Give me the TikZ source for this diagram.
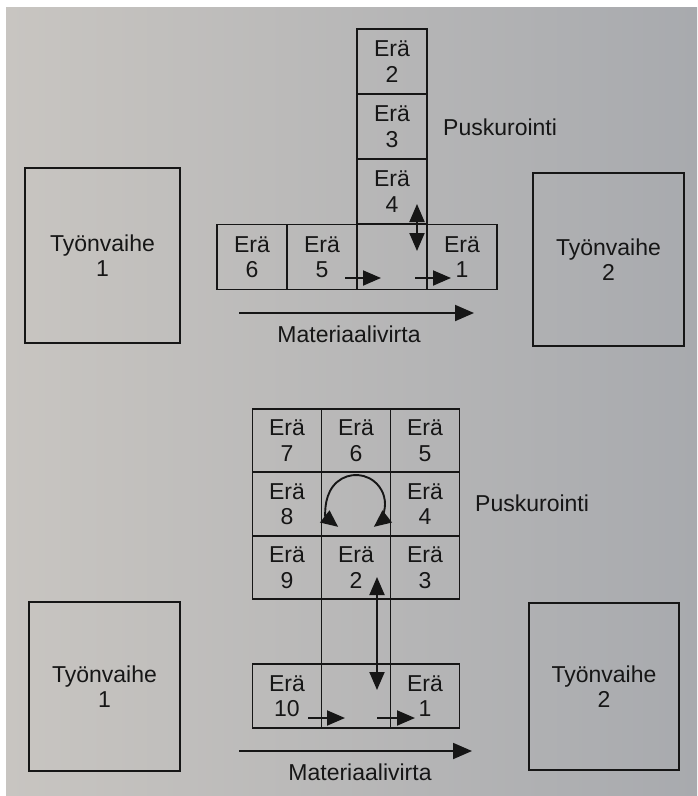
\documentclass[tikz,border=0pt]{standalone}
\usepackage{fontspec}
\setmainfont{Liberation Sans}
\usetikzlibrary{arrows.meta}
\definecolor{ink}{RGB}{22,22,22}
\definecolor{paperL}{RGB}{200,197,193}
\definecolor{paperR}{RGB}{168,170,174}
\tikzset{
  cell/.style={draw=ink, line width=1.9pt, minimum width=70pt, minimum height=65pt,
    inner sep=0pt, outer sep=0pt, align=center, text=ink,
    font=\fontsize{23}{25.5}\selectfont},
  gcell/.style={cell, minimum width=69pt, minimum height=63.5pt},
  stagebox/.style={draw=ink, line width=1.9pt, inner sep=0pt, outer sep=0pt,
    align=center, text=ink, font=\fontsize{23}{25.5}\selectfont},
  lbl/.style={text=ink, inner sep=0pt, font=\fontsize{23}{25.5}\selectfont},
  flow/.style={draw=ink, line width=1.9pt, -{Triangle[length=19pt,width=16pt]}},
  pusharrow/.style={draw=ink, line width=1.9pt, -{Triangle[length=18pt,width=15pt]}},
  twoway/.style={draw=ink, line width=1.9pt,
    {Triangle[length=18pt,width=15pt]}-{Triangle[length=18pt,width=15pt]}},
  link/.style={draw=ink, line width=1.9pt}
}
\begin{document}
\begin{tikzpicture}[x=1pt,y=-1pt]
  % paper
  \fill[white] (0,0) rectangle (697,796);
  \shade[left color=paperL, right color=paperR] (6,7) rectangle (697,796);
  \useasboundingbox (0,0) rectangle (697,796);

  % ---------- upper layout: buffer column above the line ----------
  \node[stagebox, minimum width=155pt, minimum height=175pt] (A1) at (102.5,255.5) {Työnvaihe\\1};
  \node[stagebox, minimum width=151pt, minimum height=173pt] (A2) at (608.5,259.5) {Työnvaihe\\2};

  \node[cell] (a2) at (392,61.5)  {Erä\\2};
  \node[cell] (a3) at (392,126.5) {Erä\\3};
  \node[cell] (a4) at (392,191.5) {Erä\\4};
  \node[cell] (a6) at (252,257)   {Erä\\6};
  \node[cell] (a5) at (322,257)   {Erä\\5};
  \node[cell] (ax) at (392,257)   {};
  \node[cell] (a1) at (462,257)   {Erä\\1};

  \node[lbl, anchor=west] (ap) at (443,127) {Puskurointi};

  \draw[twoway] (417,204) coordinate (au) -- (417,251) coordinate (ad);
  \coordinate (ap1s) at (345,278); \coordinate (ap1e) at (381,278);
  \coordinate (ap2s) at (415,278); \coordinate (ap2e) at (451,278);
  \draw[pusharrow] (ap1s) -- (ap1e);
  \draw[pusharrow] (ap2s) -- (ap2e);

  \coordinate (amf1) at (239,313); \coordinate (amf2) at (474,313);
  \draw[flow] (amf1) -- (amf2);
  \node[lbl] (am) at (349,334) {Materiaalivirta};

  % ---------- lower layout: 3x3 buffer block ----------
  \node[stagebox, minimum width=151pt, minimum height=169pt] (B1) at (104.5,686.5) {Työnvaihe\\1};
  \node[stagebox, minimum width=150pt, minimum height=167pt] (B2) at (604,686.5) {Työnvaihe\\2};

  \node[gcell] (b7) at (287,440.5) {Erä\\7};
  \node[gcell] (b6) at (356,440.5) {Erä\\6};
  \node[gcell] (b5) at (425,440.5) {Erä\\5};
  \node[gcell] (bc) at (287,504)   {Erä\\8};
  \node[gcell] (bm) at (356,504)   {};
  \node[gcell] (b4) at (425,504)   {Erä\\4};
  \node[gcell] (b9) at (287,567.5) {Erä\\9};
  \node[gcell] (b2) at (356,567.5) {Erä\\2};
  \node[gcell] (b3) at (425,567.5) {Erä\\3};

  \node[gcell, minimum height=64pt] (b10) at (287,696) {Erä\\10};
  \node[gcell, minimum height=64pt] (by)  at (356,696) {};
  \node[gcell, minimum height=64pt] (b1)  at (425,696) {Erä\\1};

  % shaft between the block and the line
  \draw[link] (b2.south west) -- (by.north west);
  \draw[link] (b2.south east) -- (by.north east);

  % rotation inside the middle cell (y axis points down, so angles run mirrored)
  \draw[draw=ink, line width=1.9pt,
        {Triangle[length=17pt,width=15pt]}-{Triangle[length=17pt,width=15pt]}]
    (bm.center) ++(128:29) coordinate (rs)
    arc[start angle=128, end angle=412, radius=29] coordinate (re);

  \node[lbl, anchor=west] (bp) at (475,503) {Puskurointi};

  \draw[twoway] (377,577) coordinate (bu) -- (377,690) coordinate (bd);
  \coordinate (bp1s) at (308,718); \coordinate (bp1e) at (345,718);
  \coordinate (bp2s) at (377,718); \coordinate (bp2e) at (415,718);
  \draw[pusharrow] (bp1s) -- (bp1e);
  \draw[pusharrow] (bp2s) -- (bp2e);

  \coordinate (bmf1) at (239,751); \coordinate (bmf2) at (472,751);
  \draw[flow] (bmf1) -- (bmf2);
  \node[lbl] (bmt) at (360,772) {Materiaalivirta};
\end{tikzpicture}
\end{document}
